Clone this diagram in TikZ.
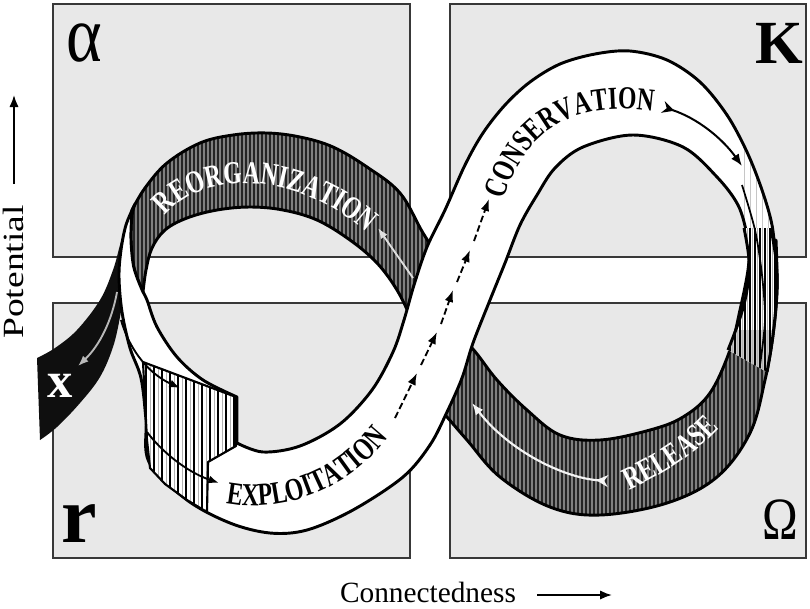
\documentclass[tikz,border=0pt]{standalone}
\usepackage{fontspec}
\setmainfont{Liberation Serif}
\newfontfamily\ribbonfont[FakeStretch=0.74]{Liberation Serif}
\usetikzlibrary{arrows.meta,decorations.text}
\definecolor{boxfill}{gray}{0.91}
\definecolor{boxline}{gray}{0.22}
\definecolor{darkband}{gray}{0.14}
\definecolor{hatchgray}{gray}{0.5}
\definecolor{tailblack}{gray}{0.06}
\tikzset{
  boxst/.style={fill=boxfill, draw=boxline, line width=1.8pt},
  edge/.style={draw=black, line width=2.2pt, line join=round},
  axisarrow/.style={line width=1.4pt, -{Latex[length=9pt,width=7pt]}},
  flowarrow/.style={line width=1.4pt, -{Latex[length=8pt,width=6pt]}},
  dasharrow/.style={line width=1.4pt, dash pattern=on 5pt off 2.5pt, -{Latex[length=9pt,width=6.5pt]}},
  bandtext/.style={decorate},
}
\def\tailpath{plot[smooth,tension=0.6] coordinates {(134,206) (125,228) (120,245) (113,270) (100,300) (77,330) (55,348) (37,358)} -- (40,440) -- plot[smooth,tension=0.6] coordinates {(40,440) (57,427) (80,403) (100,377) (113,347) (120,317) (124,290) (127,255)} -- cycle}
\def\reorgpath{plot[smooth,tension=0.6] coordinates {(442,262) (423,233) (400,193) (367,167) (333,147) (300,137) (267,133) (233,135) (200,143) (167,163) (145,188) (132,210)} -- plot[smooth,tension=0.6] coordinates {(132,210) (131,240) (134,268) (143,292)} -- plot[smooth,tension=0.6] coordinates {(143,292) (146,270) (152,248) (165,230) (187,218) (217,210) (250,207) (283,210) (317,220) (350,240) (377,263) (397,290) (412,320) (422,340)} -- cycle}
\def\releasepath{plot[smooth,tension=0.6] coordinates {(776,240) (777,290) (773,335) (765,380) (750,433) (717,477) (667,503) (600,515) (550,507) (500,477) (467,440) (447,417) (432,400)} -- plot[smooth,tension=0.6] coordinates {(450,330) (472,348) (497,380) (527,410) (560,435) (600,440) (650,430) (683,417) (710,393) (730,350) (740,310) (748,270) (750,240)} -- cycle}
\def\whitepath{plot[smooth,tension=0.55] coordinates {(135,204) (126,225) (121,250) (119,277) (122,312) (130,348) (141,378) (146,420) (149,462) (187,500) (230,523) (270,533) (307,530) (353,510) (403,477) (430,445) (447,412) (462,378) (473,343) (490,300) (505,263) (520,225) (537,195) (555,168) (583,147) (633,135) (683,147) (717,177) (738,205) (747,235) (750,262)} -- (776,262) -- plot[smooth,tension=0.55] coordinates {(776,262) (772,225) (762,190) (747,152) (727,115) (700,82) (667,60) (630,51) (595,54) (560,64) (530,82) (505,105) (483,133) (465,165) (445,210) (427,247) (414,285) (404,320) (393,352) (372,390) (340,424) (300,446) (263,452) (237,443)} -- (237,397) -- plot[smooth,tension=0.55] coordinates {(237,397) (203,380) (177,357) (157,327) (147,300) (143,292)} -- plot[smooth,tension=0.55] coordinates {(143,292) (134,268) (131,240) (132,215) (135,204)} -- cycle}
\def\twistpath{plot[smooth,tension=0.6] coordinates {(744,228) (749,260) (747,290) (740,318) (728,350)} -- (767,372) -- plot[smooth,tension=0.6] coordinates {(767,372) (773,335) (777,290) (776,260) (771,228)} -- cycle}
\def\blockpath{(143,362) -- (236,397) -- (236,446) -- (208,462) -- (207,512) -- (187,500) -- (165,484) -- (150,468) -- (147,440) -- cycle}
\begin{document}
\begin{tikzpicture}[x=0.75pt,y=-0.75pt]
\useasboundingbox (0,0) rectangle (810,608);
\fill[white] (0,0) rectangle (810,608);
% quadrant boxes
\draw[boxst] (53,4) rectangle (410,257);
\draw[boxst] (53,303) rectangle (410,558);
\draw[boxst] (450,4) rectangle (806,257);
\draw[boxst] (450,303) rectangle (806,558);
% exit tail
\fill[tailblack] \tailpath;
% reorganization band
\begin{scope}
  \clip \reorgpath;
  \fill[darkband] (100,100) rectangle (470,360);
  \foreach \x in {100,104,...,470} {\draw[hatchgray,line width=1pt] (\x,100) -- (\x,360);}
\end{scope}
\draw[edge] \reorgpath;
% release band
\begin{scope}
  \clip \releasepath;
  \fill[darkband] (420,220) rectangle (790,530);
  \foreach \x in {420,424,...,790} {\draw[hatchgray,line width=1pt] (\x,220) -- (\x,530);}
\end{scope}
\draw[edge] \releasepath;
% white ribbon
\fill[white] \whitepath;
\begin{scope}
  \clip \whitepath;
  \foreach \x in {744,750,...,770} {\draw[gray!45,line width=0.6pt] (\x,150) -- (\x,240);}
\end{scope}
\draw[edge] \whitepath;
% twist on the right
\begin{scope}
  \clip \twistpath;
  \fill[white] (720,220) rectangle (790,380);
  \fill[gray!40] (720,330) rectangle (790,380);
  \foreach \x in {725,730,...,785} {\draw[black,line width=0.9pt] (\x,220) -- (\x,380);}
  \foreach \x in {727.5,732.5,...,785} {\draw[gray!60,line width=0.6pt] (\x,220) -- (\x,380);}
\end{scope}
\draw[edge] plot[smooth,tension=0.6] coordinates {(744,228) (749,260) (747,290) (740,318) (728,350)};
\draw[edge] plot[smooth,tension=0.6] coordinates {(771,228) (776,260) (777,290) (773,335) (767,372)};
\draw[line width=1.3pt] plot[smooth] coordinates {(742,185) (755,230) (762,275) (765,320) (760,365)};
% hatched block on the left
\begin{scope}
  \clip \blockpath;
  \fill[white] (140,355) rectangle (240,515);
  \foreach \x in {146,154,...,238} {\draw[black,line width=1.1pt] (\x,355) -- (\x,515);}
  \foreach \x in {150,158,...,238} {\draw[gray!60,line width=0.7pt] (\x,355) -- (\x,515);}
\end{scope}
\draw[line width=1.6pt, line join=round] \blockpath;
% arrows
\coordinate (la1) at (121,320); \coordinate (la2) at (180,388);
\draw[flowarrow] (la1) .. controls (128,345) and (145,372) .. (la2);
\coordinate (lb1) at (147,432); \coordinate (lb2) at (219,483);
\draw[flowarrow] (lb1) .. controls (162,452) and (187,472) .. (lb2);
\coordinate (xa1) at (117,292); \coordinate (xa2) at (78,366);
\draw[flowarrow, gray!55] (xa1) .. controls (112,320) and (100,345) .. (xa2);
\coordinate (ra1) at (413,278); \coordinate (ra2) at (378,228);
\draw[flowarrow, gray!25] (ra1) -- (ra2);
\coordinate (rl1) at (608,481); \coordinate (rl2) at (472,403);
\draw[line width=1.6pt, gray!8, {Stealth[reversed,length=9pt,width=9pt]}-{Latex[length=9pt,width=7pt]}] (rl1) .. controls (565,478) and (510,452) .. (rl2);
\coordinate (ca1) at (663,107); \coordinate (ca2) at (742,166);
\draw[line width=1.5pt, {Stealth[reversed,length=9pt,width=9pt]}-{Latex[length=9pt,width=7pt]}] (ca1) .. controls (697,118) and (722,138) .. (ca2);
\coordinate (d0) at (395,418); \coordinate (d1) at (417,373);
\coordinate (d1b) at (421,365); \coordinate (d2) at (437,332);
\coordinate (d2b) at (441,324); \coordinate (d3) at (453,290);
\coordinate (d3b) at (457,282); \coordinate (d4) at (470,250);
\coordinate (d4b) at (474,241); \coordinate (d5) at (489,199);
\draw[dasharrow] (d0) -- (d1);
\draw[dasharrow] (d1b) -- (d2);
\draw[dasharrow] (d2b) -- (d3);
\draw[dasharrow] (d3b) -- (d4);
\draw[dasharrow] (d4b) -- (d5);
% ribbon texts
\path[bandtext, decoration={text along path, text color=white, text align=left, text={|\ribbonfont\bfseries\fontsize{24}{24}\selectfont|REORGANIZATION}}] (165,216) .. controls (202,170) and (305,165) .. (385,250);
\path[bandtext, decoration={text along path, text color=black, text align=left, text={|\ribbonfont\bfseries\fontsize{24}{24}\selectfont|CONSERVATION}}] (504,200) .. controls (527,124) and (580,95) .. (675,115);
\path[bandtext, decoration={text along path, text color=black, text align=left, text={|\ribbonfont\bfseries\fontsize{24}{24}\selectfont|EXPLOITATION}}] (226,503) .. controls (280,514) and (360,494) .. (408,408);
\path[bandtext, decoration={text along path, text color=white, text align=left, text={|\ribbonfont\bfseries\fontsize{24}{24}\selectfont|RELEASE}}] (629,490) .. controls (668,471) and (703,452) .. (738,406);
% labels
\node[text=white, font=\bfseries\fontsize{38}{38}\selectfont, inner sep=0pt] (xlab) at (60,386) {x};
\node[font=\fontsize{60}{60}\selectfont, inner sep=0pt] (alpha) at (84,43) {\scalebox{0.85}[1]{α}};
\node[font=\bfseries\fontsize{46}{46}\selectfont, inner sep=0pt] (K) at (779,43) {K};
\node[font=\bfseries\fontsize{60}{60}\selectfont, inner sep=0pt] (r) at (79,524) {r};
\node[font=\fontsize{45}{45}\selectfont, inner sep=0pt] (Omega) at (780,520) {\scalebox{0.8}[1]{Ω}};
% axes
\node[rotate=90, font=\fontsize{22}{22}\selectfont, inner sep=0pt] (pot) at (13,272) {\scalebox{1.28}[1]{Potential}};
\coordinate (pa) at (14,184); \coordinate (pb) at (14,95);
\draw[axisarrow] (pa) -- (pb);
\node[font=\fontsize{22}{22}\selectfont, inner sep=0pt] (conn) at (428,592) {Connectedness};
\coordinate (ca) at (537,595); \coordinate (cb) at (612,595);
\draw[axisarrow] (ca) -- (cb);
\end{tikzpicture}
\end{document}
